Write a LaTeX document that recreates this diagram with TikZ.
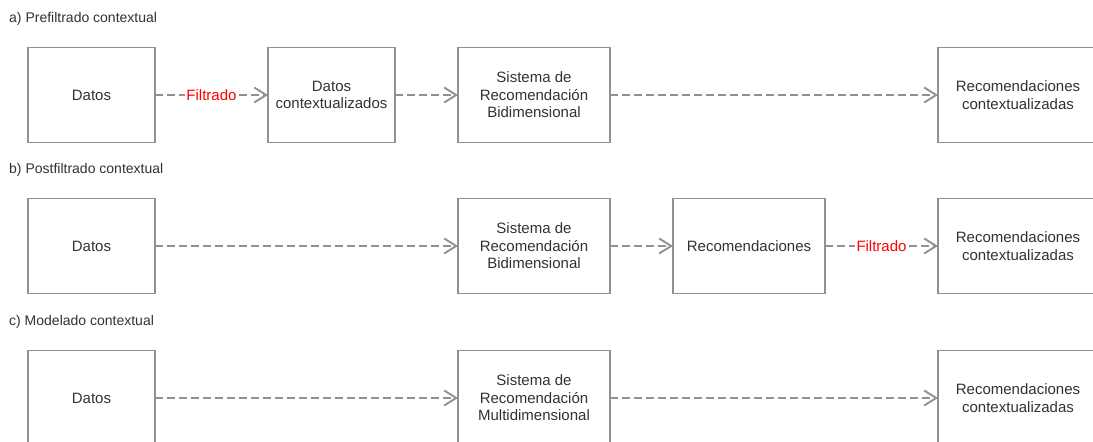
\documentclass[tikz,border=0pt]{standalone}
\usepackage{fontspec}
\setmainfont{Liberation Sans}
\usetikzlibrary{arrows.meta}
\definecolor{linegray}{RGB}{145,145,145}
\definecolor{txtgray}{RGB}{50,50,50}
\begin{document}
\begin{tikzpicture}[x=1pt,y=-1pt,
  box/.style={draw=linegray, line width=1.9pt, fill=white, minimum height=95pt, inner sep=0pt, outer sep=0pt, align=center, text=txtgray, font=\fontsize{15}{17.5}\selectfont},
  flow/.style={draw=linegray, line width=1.9pt, dash pattern=on 8pt off 4pt, -{Straight Barb[length=12pt,width=15pt,line width=1.9pt]}},
  filt/.style={fill=white, text=red, inner sep=1.5pt, font=\fontsize{15}{17.5}\selectfont},
  title/.style={anchor=west, text=txtgray, inner sep=0pt, font=\fontsize{14}{16}\selectfont}]
\useasboundingbox (0,0) rectangle (1093,442);
\clip (0,0) rectangle (1093,442);
% a) prefiltrado
\node[title] (ta) at (9,19) {a) Prefiltrado contextual};
\node[box, minimum width=127pt] (datosA) at (91.5,95) {Datos};
\node[box, minimum width=127pt] (ctxA) at (331.5,95) {Datos\\contextualizados};
\node[box, minimum width=152pt] (sisA) at (534,95) {Sistema de\\Recomendación\\Bidimensional};
\node[box, minimum width=152pt, text width=160pt] (recA) at (1018,95) {Recomendaciones\\contextualizadas};
\draw[flow] (datosA) -- node[filt] {Filtrado} (ctxA);
\draw[flow] (ctxA) -- (sisA);
\draw[flow] (sisA) -- (recA);
% b) postfiltrado
\node[title] (tb) at (9,170) {b) Postfiltrado contextual};
\node[box, minimum width=127pt] (datosB) at (91.5,246) {Datos};
\node[box, minimum width=152pt] (sisB) at (534,246) {Sistema de\\Recomendación\\Bidimensional};
\node[box, minimum width=152pt] (recB) at (749,246) {Recomendaciones};
\node[box, minimum width=152pt, text width=160pt] (ctxB) at (1018,246) {Recomendaciones\\contextualizadas};
\draw[flow] (datosB) -- (sisB);
\draw[flow] (sisB) -- (recB);
\draw[flow] (recB) -- node[filt] {Filtrado} (ctxB);
% c) modelado
\node[title] (tc) at (9,322) {c) Modelado contextual};
\node[box, minimum width=127pt] (datosC) at (91.5,398) {Datos};
\node[box, minimum width=152pt] (sisC) at (534,398) {Sistema de\\Recomendación\\Multidimensional};
\node[box, minimum width=152pt, text width=160pt] (recC) at (1018,398) {Recomendaciones\\contextualizadas};
\draw[flow] (datosC) -- (sisC);
\draw[flow] (sisC) -- (recC);
\end{tikzpicture}
\end{document}
